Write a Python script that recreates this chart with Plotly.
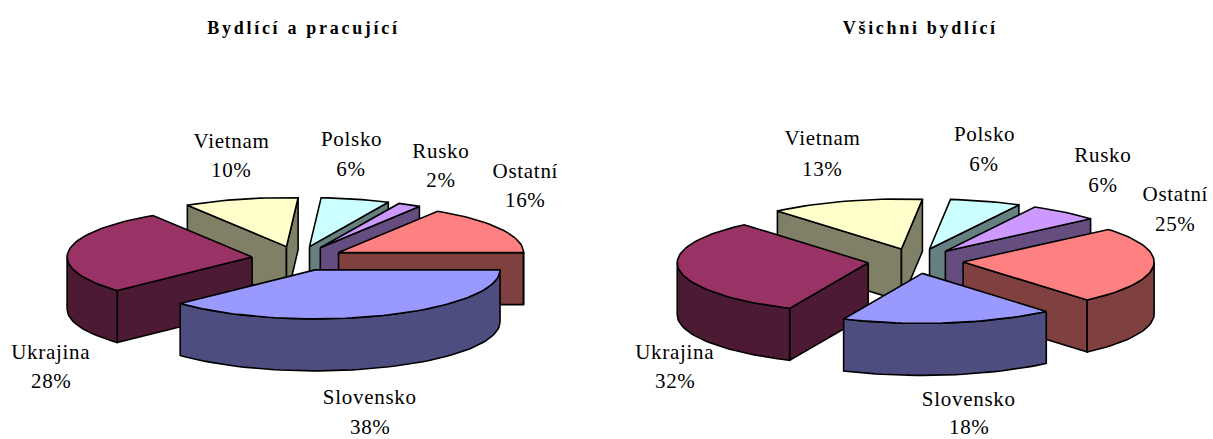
import math
import plotly.graph_objects as go

categories = ["Slovensko", "Ukrajina", "Vietnam", "Polsko", "Rusko", "Ostatní"]
values_left = [38, 28, 10, 6, 2, 16]
values_right = [18, 32, 13, 6, 6, 25]
title_left = "Bydlící a pracující"
title_right = "Všichni bydlící"

top_colors = ["#9999FF", "#993366", "#FFFFCC", "#CCFFFF", "#CC99FF", "#FF8080"]
side_colors = ["#4D4D80", "#4D1A33", "#808066", "#668080", "#664D80", "#804040"]

# back-to-front painting order (indices into categories)
PAINT = [2, 3, 4, 5, 1, 0]
DEPTH, EXPLODE = 52, 0.25
LEFT = dict(cx=298, cy=258.5, rx=185, ry=49, start=90)
RIGHT = dict(cx=915.5, cy=261, rx=191, ry=50, start=139.5)

LABELS_LEFT = [(370, 397, 427), (51, 352, 381), (231, 141, 170), (351, 139, 169), (441, 151, 180), (525, 171, 200)]
LABELS_RIGHT = [(969, 399, 427), (675, 352, 381), (822, 138, 169), (984, 134, 164), (1103, 155, 185), (1175, 194, 224)]

FONT = "Liberation Serif"
fig = go.Figure()


def poly(xs, ys, color):
    fig.add_trace(go.Scatter(x=xs + xs[:1], y=ys + ys[:1], mode="lines", fill="toself",
                             fillcolor=color, line=dict(color="black", width=1.6),
                             hoverinfo="skip", showlegend=False))


def draw_pie(values, geo):
    total = sum(values)
    angle = geo["start"]
    spans = []
    for v in values:
        a1 = angle + 360 * v / total
        spans.append((angle, a1))
        angle = a1
    rx, ry, cx, cy = geo["rx"], geo["ry"], geo["cx"], geo["cy"]
    for i in PAINT:
        a0, a1 = spans[i]
        mid = math.radians((a0 + a1) / 2)
        ax = cx + EXPLODE * rx * math.sin(mid)
        ay = cy - EXPLODE * ry * math.cos(mid)

        def pt(deg):
            t = math.radians(deg)
            return ax + rx * math.sin(t), ay - ry * math.cos(t)

        # cut faces that look towards the viewer
        for deg, visible in ((a0, math.sin(math.radians(a0)) < 0), (a1, math.sin(math.radians(a1)) > 0)):
            if visible:
                px, py = pt(deg)
                poly([ax, px, px, ax], [ay, py, py + DEPTH, ay + DEPTH], side_colors[i])
        # outer wall: front half of the rim only
        for shift in (0, 360):
            w0, w1 = max(a0, 90 + shift), min(a1, 270 + shift)
            if w1 > w0:
                n = max(2, int(w1 - w0) // 2)
                arc = [pt(w0 + (w1 - w0) * k / n) for k in range(n + 1)]
                poly([p[0] for p in arc] + [p[0] for p in arc[::-1]],
                     [p[1] for p in arc] + [p[1] + DEPTH for p in arc[::-1]], side_colors[i])
        # top face
        n = max(2, int(a1 - a0) // 2)
        arc = [pt(a0 + (a1 - a0) * k / n) for k in range(n + 1)]
        poly([ax] + [p[0] for p in arc], [ay] + [p[1] for p in arc], top_colors[i])


draw_pie(values_left, LEFT)
draw_pie(values_right, RIGHT)

annotations = []


def text(x, y, s, size=21, bold=False):
    annotations.append(dict(x=x, y=y, xref="x", yref="y", text=f"<b>{s}</b>" if bold else s,
                            showarrow=False, xanchor="center", yanchor="middle",
                            font=dict(family=FONT, size=size, color="black")))


for values, pos in ((values_left, LABELS_LEFT), (values_right, LABELS_RIGHT)):
    for name, v, (x, y1, y2) in zip(categories, values, pos):
        text(x, y1, name)
        text(x, y2, f"{v}%")
text(304, 28, title_left, size=18, bold=True)
text(921, 28, title_right, size=18, bold=True)

fig.update_layout(width=1213, height=439, margin=dict(l=0, r=0, t=0, b=0),
                  paper_bgcolor="white", plot_bgcolor="white", showlegend=False,
                  annotations=annotations,
                  xaxis=dict(range=[0, 1213], visible=False, fixedrange=True),
                  yaxis=dict(range=[439, 0], visible=False, fixedrange=True))

POST = """
document.body.style.margin = '0';
document.body.style.overflow = 'hidden';
document.querySelectorAll('.annotation-text').forEach(function (el) {
    var big = el.style.fontSize === '18px';
    el.style.letterSpacing = big ? '2.7px' : '0.7px';
});
"""
fig.write_html("out.html", config=dict(displayModeBar=False), post_script=POST)
